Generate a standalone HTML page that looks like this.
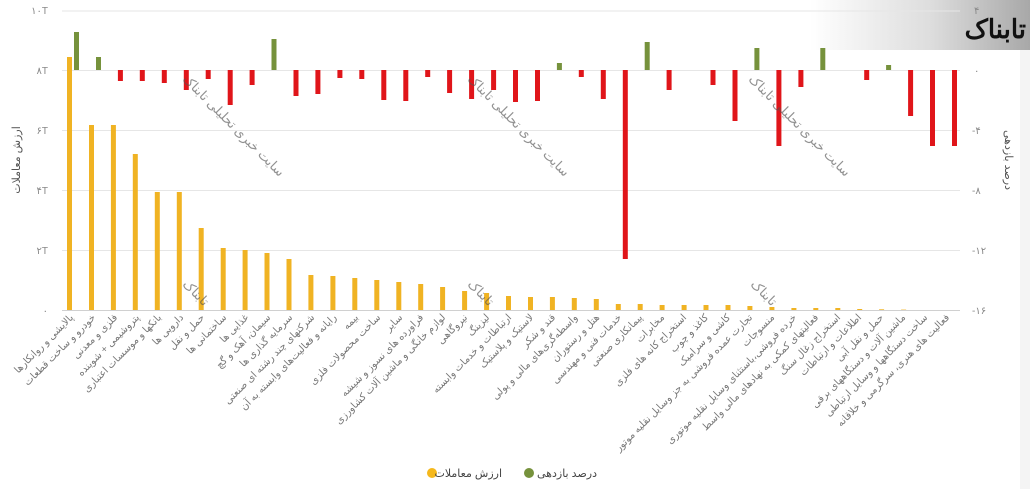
<!DOCTYPE html>
<html><head><meta charset="utf-8"><style>
html,body{margin:0;padding:0;background:#fff;width:1030px;height:489px;overflow:hidden}
svg{display:block;font-family:"Liberation Sans","DejaVu Sans",sans-serif}
</style></head><body>
<svg id="s" width="1030" height="489" viewBox="0 0 1030 489" xmlns="http://www.w3.org/2000/svg">
<defs><linearGradient id="lg" x1="0" x2="1" y1="0" y2="0"><stop offset="0" stop-color="#fff"/><stop offset="0.55" stop-color="#ddd"/><stop offset="1" stop-color="#a8a8a8"/></linearGradient></defs>
<rect x="810" y="0" width="220" height="50" fill="url(#lg)"/>
<rect x="1020" y="50" width="10" height="439" fill="#f4f4f4"/>
<g stroke="#e6e6e6" stroke-width="1">
<line x1="62" x2="960" y1="11" y2="11"/><line x1="62" x2="960" y1="70.5" y2="70.5"/><line x1="62" x2="960" y1="130.5" y2="130.5"/><line x1="62" x2="960" y1="190.5" y2="190.5"/><line x1="62" x2="960" y1="250.5" y2="250.5"/><line x1="62" x2="960" y1="310.5" y2="310.5" stroke="#d0d0d0"/>
</g>
<g font-size="10" fill="#888" text-anchor="end">
<text x="48" y="14">۱۰T</text><text x="48" y="74">۸T</text><text x="48" y="134">۶T</text><text x="48" y="194">۴T</text><text x="48" y="254">۲T</text><text x="48" y="314">۰</text>
</g>
<g font-size="10" fill="#888" text-anchor="start">
<text x="974" y="14">۴</text><text x="974" y="74">۰</text><text x="972" y="134">-۴</text><text x="972" y="194">-۸</text><text x="972" y="254">-۱۲</text><text x="972" y="314">-۱۶</text>
</g>
<text transform="translate(20,160) rotate(-90)" font-size="11" fill="#555" text-anchor="middle">ارزش معاملات</text>
<text transform="translate(1005,160) rotate(90)" font-size="11" fill="#555" text-anchor="middle">درصد بازدهی</text>
<g id="bars"></g>
<g font-size="10" fill="#777" text-anchor="end" id="labels">
<text transform="translate(74,318) rotate(-45)">پالایشی و روانکارها</text>
<text transform="translate(96,318) rotate(-45)">خودرو و ساخت قطعات</text>
<text transform="translate(118,318) rotate(-45)">فلزی و معدنی</text>
<text transform="translate(140,318) rotate(-45)">پتروشیمی + شوینده</text>
<text transform="translate(162,318) rotate(-45)">بانکها و موسسات اعتباری</text>
<text transform="translate(184,318) rotate(-45)">دارویی ها</text>
<text transform="translate(205,318) rotate(-45)">حمل و نقل</text>
<text transform="translate(227,318) rotate(-45)">ساختمانی ها</text>
<text transform="translate(249,318) rotate(-45)">غذایی ها</text>
<text transform="translate(271,318) rotate(-45)">سیمان، آهک و گچ</text>
<text transform="translate(293,318) rotate(-45)">سرمایه گذاری ها</text>
<text transform="translate(315,318) rotate(-45)">شرکتهای چند رشته ای صنعتی</text>
<text transform="translate(337,318) rotate(-45)">رایانه و فعالیت‌های وابسته به آن</text>
<text transform="translate(359,318) rotate(-45)">بیمه</text>
<text transform="translate(381,318) rotate(-45)">ساخت محصولات فلزی</text>
<text transform="translate(403,318) rotate(-45)">سایر</text>
<text transform="translate(424,318) rotate(-45)">فراورده های نسوز و شیشه</text>
<text transform="translate(446,318) rotate(-45)">لوازم خانگی و ماشین آلات کشاورزی</text>
<text transform="translate(468,318) rotate(-45)">نیروگاهی</text>
<text transform="translate(490,318) rotate(-45)">لیزینگ</text>
<text transform="translate(512,318) rotate(-45)">ارتباطات و خدمات وابسته</text>
<text transform="translate(534,318) rotate(-45)">لاستیک و پلاستیک</text>
<text transform="translate(556,318) rotate(-45)">قند و شکر</text>
<text transform="translate(578,318) rotate(-45)">واسطه‌گری‌های مالی و پولی</text>
<text transform="translate(600,318) rotate(-45)">هتل و رستوران</text>
<text transform="translate(622,318) rotate(-45)">خدمات فنی و مهندسی</text>
<text transform="translate(643,318) rotate(-45)">پیمانکاری صنعتی</text>
<text transform="translate(665,318) rotate(-45)">مخابرات</text>
<text transform="translate(687,318) rotate(-45)">استخراج کانه های فلزی</text>
<text transform="translate(709,318) rotate(-45)">کاغذ و چوب</text>
<text transform="translate(731,318) rotate(-45)">کاشی و سرامیک</text>
<text transform="translate(753,318) rotate(-45)">تجارت عمده فروشی به جز وسایل نقلیه موتور</text>
<text transform="translate(775,318) rotate(-45)">منسوجات</text>
<text transform="translate(797,318) rotate(-45)">خرده فروشی،باستثنای وسایل نقلیه موتوری</text>
<text transform="translate(819,318) rotate(-45)">فعالیتهای کمکی به نهادهای مالی واسط</text>
<text transform="translate(841,318) rotate(-45)">استخراج زغال سنگ</text>
<text transform="translate(862,318) rotate(-45)">اطلاعات و ارتباطات</text>
<text transform="translate(884,318) rotate(-45)">حمل و نقل آبی</text>
<text transform="translate(906,318) rotate(-45)">ماشین آلات و دستگاههای برقی</text>
<text transform="translate(928,318) rotate(-45)">ساخت دستگاهها و وسایل ارتباطی</text>
<text transform="translate(950,318) rotate(-45)">فعالیت های هنری، سرگرمی و خلاقانه</text>
</g>
<g font-size="13" fill="#555" opacity="0.65">
<text transform="translate(182,80) rotate(45)">سایت خبری تحلیلی تابناک</text>
<text transform="translate(467,80) rotate(45)">سایت خبری تحلیلی تابناک</text>
<text transform="translate(748,80) rotate(45)">سایت خبری تحلیلی تابناک</text>
<text transform="translate(182,285) rotate(45)">تابناک</text>
<text transform="translate(467,285) rotate(45)">تابناک</text>
<text transform="translate(750,285) rotate(45)">تابناک</text>
</g>
<text x="1026" y="38" font-size="26" font-weight="bold" fill="#111" text-anchor="end" font-family="'Liberation Serif','DejaVu Serif',serif">تابناک</text>
<circle cx="432" cy="473" r="5" fill="#f5b81c"/>
<text x="502" y="477" font-size="11" fill="#444" text-anchor="end">ارزش معاملات</text>
<circle cx="529" cy="473" r="5" fill="#76923c"/>
<text x="597" y="477" font-size="11" fill="#444" text-anchor="end">درصد بازدهی</text>
</svg>
<script>
var Y=[57,125,125,154,192,192,228,248,250,253,259,275,276,278,280,282,284,287,291,293,296,297,297,298,299,304,304,305,305,305,305,306,307,308,308,308,309,309.3,309.6,310,310];
var R=[32,57,81,81,83,90,79,105,85,39,96,94,78,79,100,101,77,93,99,90,102,101,63,77,99,259,42,90,70,85,121,48,146,87,48,70,80,65,116,146,146];
var g=document.getElementById('bars'),h='';
for(var i=0;i<41;i++){var x=67+21.95*i;
h+='<rect x="'+x.toFixed(1)+'" y="'+Y[i]+'" width="5" height="'+(310-Y[i])+'" fill="#f0b323"/>';
var r=R[i];if(r<70)h+='<rect x="'+(x+7).toFixed(1)+'" y="'+r+'" width="5" height="'+(70-r)+'" fill="#76923c"/>';
else if(r>70)h+='<rect x="'+(x+7).toFixed(1)+'" y="70" width="5" height="'+(r-70)+'" fill="#e0151a"/>';}
g.innerHTML=h;
</script>
</body></html>
